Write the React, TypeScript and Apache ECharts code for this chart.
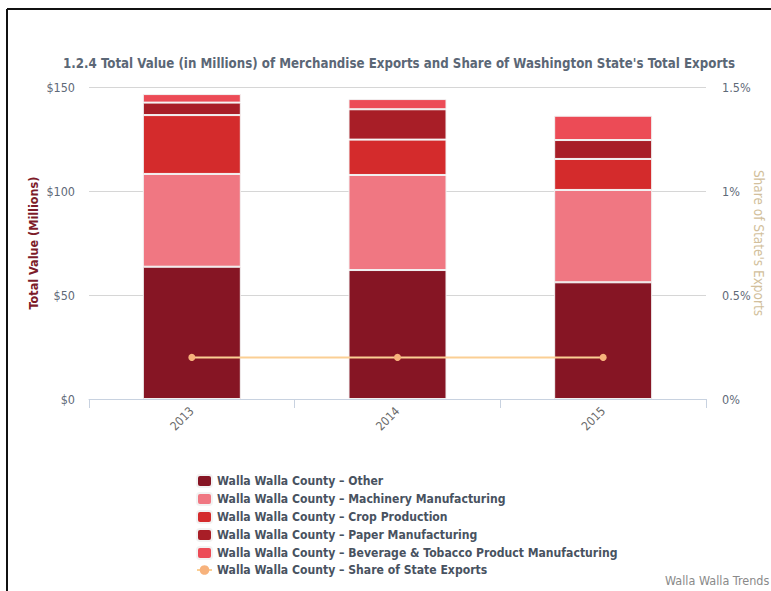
import React, { useEffect, useRef } from "react";
import * as echarts from "echarts";

const years = ["2013", "2014", "2015"];
const other = [63.6, 62.0, 56.1];
const machinery = [44.6, 45.7, 44.4];
const crop = [28.3, 17.0, 14.9];
const paper = [6.0, 14.6, 9.1];
const beverage = [4.1, 4.9, 11.7];
const share = [0.2, 0.2, 0.2];

const FONT = "DejaVu Sans Condensed";

export default function App() {
  const ref = useRef<HTMLDivElement>(null);
  useEffect(() => {
    const chart = echarts.init(ref.current!, null, { renderer: "svg" });
    const barBase = {
      type: "bar",
      stack: "total",
      barWidth: 98,
      itemStyle: { borderColor: "#f2f2f2", borderWidth: 1 },
      emphasis: { disabled: true },
    };
    chart.setOption({
      animation: false,
      textStyle: { fontFamily: FONT },
      title: {
        text: "1.2.4 Total Value (in Millions) of Merchandise Exports and Share of Washington State's Total Exports",
        left: 394,
        textAlign: "center",
        top: 52,
        textStyle: { fontFamily: FONT, fontSize: 13.2, fontWeight: "bold", color: "#5b6776" },
      },
      grid: { left: 89, right: 65, top: 87, bottom: 192, outerBoundsMode: "none", containLabel: false },
      legend: {
        orient: "vertical",
        left: 191,
        top: 469,
        height: 200,
        itemWidth: 15,
        itemHeight: 12,
        itemGap: 4,
        textStyle: { fontFamily: FONT, fontSize: 12.1, fontWeight: "bold", color: "#48525f" },
        data: [
          "Walla Walla County – Other",
          "Walla Walla County – Machinery Manufacturing",
          "Walla Walla County – Crop Production",
          "Walla Walla County – Paper Manufacturing",
          "Walla Walla County – Beverage & Tobacco Product Manufacturing",
          "Walla Walla County – Share of State Exports",
        ],
      },
      xAxis: {
        type: "category",
        data: years,
        axisLine: { lineStyle: { color: "#c8d2e0" } },
        axisTick: { show: true, alignWithLabel: false, length: 9, lineStyle: { color: "#c8d2e0" } },
        axisLabel: { rotate: 45, color: "#6a6a6a", fontSize: 12, margin: 10, fontFamily: FONT },
      },
      yAxis: [
        {
          type: "value",
          min: 0,
          max: 150,
          interval: 50,
          name: "Total Value (Millions)",
          nameLocation: "middle",
          nameRotate: 90,
          nameGap: 49,
          nameMoveOverlap: false,
          nameTextStyle: { color: "#7d1c2a", fontWeight: "bold", fontSize: 12.5, fontFamily: FONT },
          axisLabel: { formatter: (v: number) => "$" + v, color: "#5f6a78", fontSize: 12.5, margin: 14, fontFamily: FONT },
          splitLine: { lineStyle: { color: "#d6d6d6" } },
          axisLine: { show: false },
          axisTick: { show: false },
        },
        {
          type: "value",
          min: 0,
          max: 1.5,
          interval: 0.5,
          name: "Share of State's Exports",
          nameLocation: "middle",
          nameRotate: -90,
          nameGap: 46,
          nameMoveOverlap: false,
          nameTextStyle: { color: "#d2bf9c", fontSize: 13.5, fontFamily: FONT },
          axisLabel: { formatter: (v: number) => v + "%", color: "#5f6a78", fontSize: 12.5, margin: 16, fontFamily: FONT },
          splitLine: { show: false },
          axisLine: { show: false },
          axisTick: { show: false },
        },
      ],
      series: [
        { ...barBase, name: "Walla Walla County – Other", data: other, itemStyle: { ...barBase.itemStyle, color: "#861524" } },
        { ...barBase, name: "Walla Walla County – Machinery Manufacturing", data: machinery, itemStyle: { ...barBase.itemStyle, color: "#f07782" } },
        { ...barBase, name: "Walla Walla County – Crop Production", data: crop, itemStyle: { ...barBase.itemStyle, color: "#d42b2c" } },
        { ...barBase, name: "Walla Walla County – Paper Manufacturing", data: paper, itemStyle: { ...barBase.itemStyle, color: "#a81e27" } },
        { ...barBase, name: "Walla Walla County – Beverage & Tobacco Product Manufacturing", data: beverage, itemStyle: { ...barBase.itemStyle, color: "#ec4b56" } },
        {
          type: "line",
          name: "Walla Walla County – Share of State Exports",
          yAxisIndex: 1,
          data: share,
          symbol: "circle",
          symbolSize: 7,
          lineStyle: { color: "#fbcf94", width: 2 },
          itemStyle: { color: "#f7b27c" },
          emphasis: { disabled: true },
        },
      ],
      graphic: [
        { type: "line", shape: { x1: 7, y1: 9, x2: 771, y2: 9 }, style: { stroke: "#111", lineWidth: 2 } },
        { type: "line", shape: { x1: 7, y1: 9, x2: 7, y2: 591 }, style: { stroke: "#111", lineWidth: 2 } },
        {
          type: "text",
          left: 665,
          top: 574,
          style: { text: "Walla Walla Trends", fill: "#8a8a8a", font: "12.5px " + FONT },
        },
      ],
    });
    return () => chart.dispose();
  }, []);
  return (
    <div
      ref={ref}
      style={{ position: "absolute", left: 0, top: 0, width: 771, height: 591, background: "#fff" }}
    />
  );
}
